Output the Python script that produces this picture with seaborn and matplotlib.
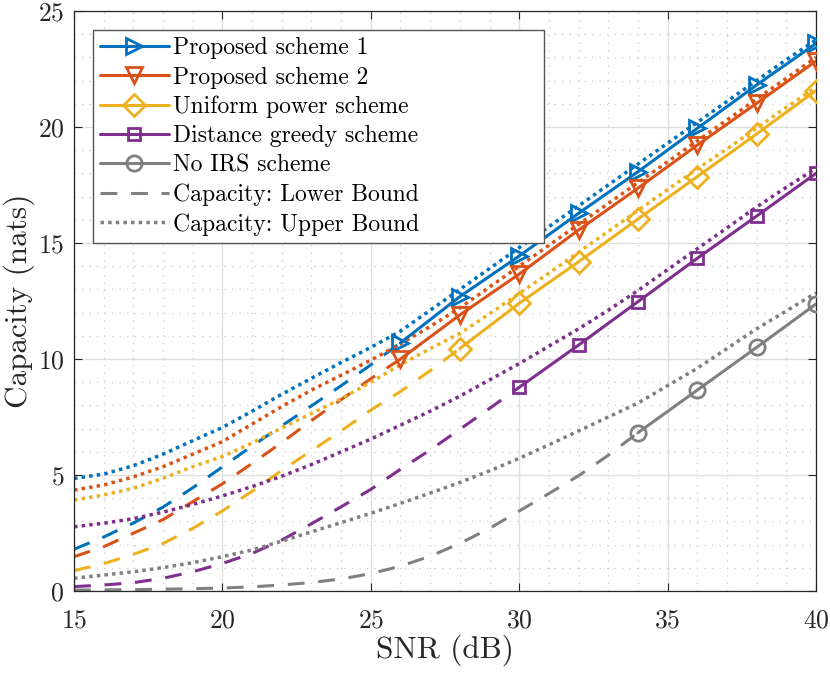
import numpy as np
import pandas as pd
import matplotlib
matplotlib.use("Agg")
import matplotlib.pyplot as plt
from matplotlib.lines import Line2D
from matplotlib.ticker import MultipleLocator
import seaborn as sns

# SNR grids
snr_all = list(range(15, 41))
snr_mark = {
    "p1": [26, 28, 30, 32, 34, 36, 38, 40],
    "p2": [26, 28, 30, 32, 34, 36, 38, 40],
    "uni": [28, 30, 32, 34, 36, 38, 40],
    "dist": [30, 32, 34, 36, 38, 40],
    "noirs": [34, 36, 38, 40],
}

# achieved capacity (solid with markers)
cap_p1 = [10.7, 12.69, 14.44, 16.28, 18.07, 19.94, 21.81, 23.6]
cap_p2 = [10.0, 11.9, 13.66, 15.56, 17.36, 19.22, 21.02, 22.84]
cap_uni = [10.45, 12.4, 14.19, 16.03, 17.86, 19.7, 21.57]
cap_dist = [8.78, 10.6, 12.47, 14.34, 16.16, 18.0]
cap_noirs = [6.82, 8.66, 10.5, 12.37]

# lower bounds (dashed), from 15 dB up to the first marker
low_p1 = [1.8, 2.33, 2.93, 3.62, 4.45, 5.35, 6.25, 7.12, 7.98, 8.85, 9.75, 10.7]
low_p2 = [1.48, 1.91, 2.49, 3.08, 3.85, 4.62, 5.5, 6.4, 7.35, 8.25, 9.15, 10.0]
low_uni = [0.88, 1.18, 1.58, 2.05, 2.7, 3.45, 4.3, 5.2, 6.05, 6.9, 7.8, 8.6, 9.5, 10.45]
low_dist = [0.19, 0.26, 0.36, 0.55, 0.83, 1.19, 1.62, 2.2, 2.9, 3.63, 4.38, 5.25,
            6.08, 6.97, 7.87, 8.78]
low_noirs = [0.04, 0.05, 0.06, 0.08, 0.1, 0.13, 0.18, 0.26, 0.37, 0.52, 0.75, 1.07,
             1.5, 2.05, 2.7, 3.45, 4.2, 4.97, 5.85, 6.82]

# upper bounds (dotted), 15..40 dB
up_p1 = [4.85, 5.04, 5.4, 5.9, 6.48, 7.05, 7.75, 8.48, 9.17, 9.85, 10.5, 11.2, 12.1,
         13.0, 13.9, 14.8, 15.7, 16.6, 17.5, 18.4, 19.3, 20.2, 21.1, 22.0, 22.9, 23.75]
up_p2 = [4.35, 4.57, 4.92, 5.36, 5.9, 6.44, 7.2, 7.95, 8.66, 9.3, 9.95, 10.65, 11.4,
         12.2, 13.1, 14.0, 14.9, 15.8, 16.7, 17.6, 18.5, 19.4, 20.3, 21.2, 22.1, 23.0]
up_uni = [3.92, 4.14, 4.43, 4.86, 5.36, 5.8, 6.38, 7.03, 7.65, 8.28, 9.0, 9.75, 10.45,
          11.1, 11.95, 12.83, 13.7, 14.6, 15.5, 16.4, 17.3, 18.2, 19.05, 19.95, 20.85, 21.7]
up_dist = [2.77, 2.92, 3.12, 3.4, 3.73, 4.1, 4.5, 4.95, 5.45, 6.0, 6.55, 7.15, 7.75,
           8.4, 9.1, 9.8, 10.55, 11.3, 12.1, 12.95, 13.85, 14.75, 15.65, 16.55, 17.4, 18.22]
up_noirs = [0.55, 0.69, 0.83, 1.01, 1.22, 1.48, 1.77, 2.15, 2.55, 2.95, 3.35, 3.78, 4.22,
            4.68, 5.18, 5.72, 6.3, 6.9, 7.5, 8.1, 8.85, 9.6, 10.45, 11.3, 12.07, 12.85]

labels = ["Proposed scheme 1", "Proposed scheme 2", "Uniform power scheme",
          "Distance greedy scheme", "No IRS scheme"]
keys = ["p1", "p2", "uni", "dist", "noirs"]
colors = ["#0072BD", "#D95319", "#EDB120", "#7E2F8E", "#808080"]
markers = [">", "v", "D", "s", "o"]
msizes = [12, 12, 11, 9, 11]

caps = [cap_p1, cap_p2, cap_uni, cap_dist, cap_noirs]
lows = [low_p1, low_p2, low_uni, low_dist, low_noirs]
ups = [up_p1, up_p2, up_uni, up_dist, up_noirs]

sns.set_theme(style="ticks")
plt.rcParams['font.family'] = ['cmr10', 'DejaVu Serif']
plt.rcParams['axes.formatter.use_mathtext'] = True
plt.rcParams['mathtext.fontset'] = 'cm'

fig, ax = plt.subplots(figsize=(8.3, 6.73), dpi=100)
fig.subplots_adjust(left=0.0892, right=0.9831, top=0.9837, bottom=0.1218)

lw = 2.2
dot_style = (0, (1, 1.2))
dash_style = (0, (5.5, 4.5))
for k, c, m, ms, cap, low, up in zip(keys, colors, markers, msizes, caps, lows, ups):
    xs = snr_mark[k]
    n_low = len(low)
    sns.lineplot(x=snr_all, y=up, ax=ax, color=c, lw=2.5, linestyle=dot_style,
                 legend=False, zorder=2)
    sns.lineplot(x=snr_all[:n_low], y=low, ax=ax, color=c, lw=lw,
                 linestyle=dash_style, legend=False, zorder=2)
    sns.lineplot(x=xs, y=cap, ax=ax, color=c, lw=lw, marker=m, markersize=ms,
                 markerfacecolor="none", markeredgecolor=c, markeredgewidth=2,
                 legend=False, zorder=3)

ax.set_xlim(15, 40)
ax.set_ylim(0, 25)
ax.xaxis.set_major_locator(MultipleLocator(5))
ax.yaxis.set_major_locator(MultipleLocator(5))
ax.xaxis.set_minor_locator(MultipleLocator(1))
ax.yaxis.set_minor_locator(MultipleLocator(1))
ax.grid(which="major", color="#dedede", lw=1.0, zorder=0)
ax.grid(which="minor", color="#cccccc", lw=0.9, linestyle=(0, (1, 5)), zorder=0)
ax.set_axisbelow(True)
ax.tick_params(which="major", direction="in", length=6, width=0.8, top=True, right=True,
               labelsize=18.5, colors="#262626")
ax.tick_params(axis="x", which="major", pad=13)
ax.tick_params(axis="y", which="major", pad=7)
ax.tick_params(which="minor", length=0, top=True, right=True)
for s in ax.spines.values():
    s.set_color("#262626")
    s.set_linewidth(0.9)
    s.set_visible(True)

ax.set_xlabel("SNR (dB)", fontsize=22.5, color="#262626", labelpad=1)
ax.set_ylabel("Capacity (nats)", fontsize=22.5, color="#262626", labelpad=2)

handles = []
for c, m, ms in zip(colors, markers, msizes):
    handles.append(Line2D([], [], color=c, lw=lw, marker=m, markersize=ms,
                          markerfacecolor="none", markeredgewidth=2))
handles.append(Line2D([], [], color="#808080", lw=lw, linestyle=dash_style))
handles.append(Line2D([], [], color="#808080", lw=2.5, linestyle=dot_style))
leg_labels = labels + ["Capacity: Lower Bound", "Capacity: Upper Bound"]
leg = ax.legend(handles, leg_labels, loc="upper left", fontsize=17, frameon=True,
                fancybox=False, framealpha=1, edgecolor="#555555",
                bbox_to_anchor=(0.0256, 0.0, 0.6078, 0.967), mode="expand",
                borderaxespad=0, borderpad=0.3, labelspacing=0.3,
                handlelength=2.9, handletextpad=0.2)
leg.get_frame().set_linewidth(1.0)
for t in leg.get_texts():
    t.set_color("black")

fig.savefig("out.png", dpi=100)
